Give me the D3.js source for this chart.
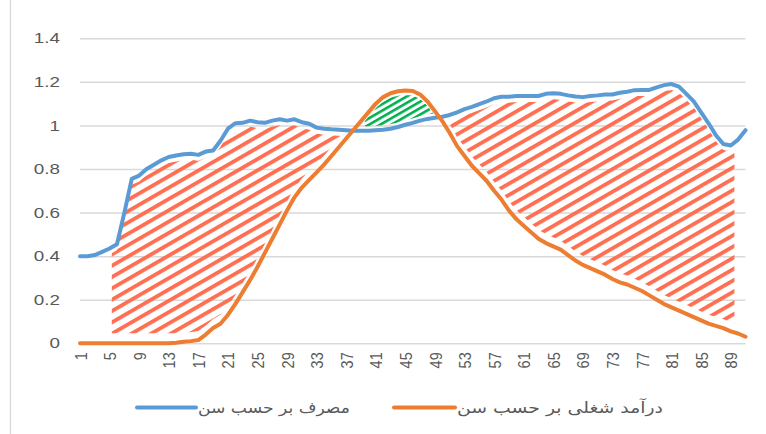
<!DOCTYPE html>
<html><head><meta charset="utf-8">
<script src="https://cdn.jsdelivr.net/npm/d3@7"></script>
<style>body{margin:0;background:#fff}svg{display:block}</style>
</head><body>
<svg id="c" width="766" height="434"></svg>
<script>
const ages = [1,2,3,4,5,6,7,8,9,10,11,12,13,14,15,16,17,18,19,20,21,22,23,24,25,26,27,28,29,30,
  31,32,33,34,35,36,37,38,39,40,41,42,43,44,45,46,47,48,49,50,51,52,53,54,55,56,57,58,59,60,
  61,62,63,64,65,66,67,68,69,70,71,72,73,74,75,76,77,78,79,80,81,82,83,84,85,86,87,88,89,90,91];
const xTickLabels = [1,5,9,13,17,21,25,29,33,37,41,45,49,53,57,61,65,69,73,77,81,85,89];
const yTicks = [0,0.2,0.4,0.6,0.8,1,1.2,1.4];
const consumption = [0.40,0.40,0.405,0.42,0.435,0.455,0.60,0.755,0.77,0.80,
  0.82,0.84,0.855,0.862,0.868,0.87,0.865,0.88,0.885,0.93,
  0.985,1.01,1.012,1.022,1.015,1.012,1.022,1.028,1.022,1.028,
  1.015,1.008,0.99,0.985,0.982,0.98,0.978,0.976,0.976,0.976,
  0.978,0.98,0.985,0.993,1.003,1.012,1.022,1.03,1.035,1.04,
  1.048,1.06,1.075,1.085,1.098,1.11,1.125,1.132,1.132,1.135,
  1.135,1.135,1.135,1.145,1.148,1.145,1.138,1.133,1.13,1.135,
  1.138,1.142,1.142,1.15,1.155,1.162,1.163,1.163,1.175,1.185,
  1.19,1.178,1.145,1.11,1.06,1.01,0.955,0.915,0.908,0.935,0.978];
const income = [0,0,0,0,0,0,0,0,0,0,
  0,0,0,0.003,0.007,0.01,0.015,0.04,0.07,0.09,
  0.13,0.18,0.235,0.29,0.35,0.415,0.48,0.545,0.61,0.67,
  0.715,0.75,0.785,0.82,0.86,0.90,0.94,0.98,1.02,1.06,
  1.10,1.13,1.148,1.157,1.16,1.158,1.142,1.11,1.065,1.02,
  0.965,0.905,0.86,0.815,0.78,0.745,0.70,0.66,0.61,0.57,
  0.54,0.51,0.48,0.46,0.445,0.43,0.405,0.38,0.36,0.345,
  0.33,0.315,0.295,0.28,0.27,0.255,0.24,0.22,0.20,0.18,
  0.165,0.15,0.135,0.12,0.105,0.09,0.08,0.07,0.055,0.045,0.03];
const seriesNames = ["مصرف بر حسب سن","درآمد شغلی بر حسب سن"];
// hatched gap regions (age ranges)
const redRanges = [[5.3,37],[51,89.5]];
const greenRange = [39.5,49];

const svg = d3.select("#c");
const L = 80, R = 745.5, T = 38.3, B = 343.3;
const x = d3.scalePoint().domain(ages).range([L,R]);
const y = d3.scaleLinear().domain([0,1.4]).range([B,T]);
const xf = a => x(1) + (a-1)*x.step();
function valAt(arr,a){
  const i = Math.floor(a)-1, t = a-Math.floor(a);
  if (i >= arr.length-1) return arr[arr.length-1];
  return arr[i]*(1-t) + arr[i+1]*t;
}

// chart border (left)
svg.append("line").attr("x1",10.5).attr("x2",10.5).attr("y1",0).attr("y2",434)
  .attr("stroke","#d9d9d9").attr("stroke-width",1.3);

// patterns
const defs = svg.append("defs");
const pr = defs.append("pattern").attr("id","redH").attr("patternUnits","userSpaceOnUse")
  .attr("width",20).attr("height",9.8).attr("patternTransform","rotate(-30)");
pr.append("rect").attr("x",0).attr("y",0).attr("width",20).attr("height",3.8).attr("fill","#FF6E50");
const pg = defs.append("pattern").attr("id","greenH").attr("patternUnits","userSpaceOnUse")
  .attr("width",20).attr("height",5.6).attr("patternTransform","rotate(-30)");
pg.append("rect").attr("x",0).attr("y",0).attr("width",20).attr("height",2.6).attr("fill","#00B050");

// grid + y axis
const yAxis = d3.axisLeft(y).tickValues(yTicks).tickSize(-(R-L)).tickPadding(20).tickFormat(d=>String(d));
const gy = svg.append("g").attr("transform",`translate(${L},0)`).call(yAxis);
gy.select(".domain").remove();
gy.selectAll(".tick line").attr("stroke","#d9d9d9").attr("stroke-width",1.5);
gy.selectAll(".tick text").attr("fill","#595959").attr("font-family","Liberation Sans, Arial, sans-serif")
  .attr("font-size",14.5).attr("x",0).attr("text-anchor","end")
  .attr("transform","translate(-20,0) scale(1.3,1)");

// x axis labels
const xAxis = d3.axisBottom(x).tickValues(xTickLabels).tickSize(0);
const gx = svg.append("g").attr("transform",`translate(0,${B})`).call(xAxis);
gx.select(".domain").remove();
gx.selectAll(".tick text").attr("fill","#595959").attr("font-family","Liberation Sans, Arial, sans-serif")
  .attr("font-size",14.5).attr("transform","rotate(-90) scale(1,1.2)").attr("text-anchor","end")
  .attr("x",-9).attr("y",0).attr("dy","0.35em");

// hatched regions
const floorY = y(0.046);
function region(r, upper, lower, fill, useFloor, inTop, inBot){
  const pts = d3.range(r[0], r[1]+1e-9, 0.05);
  if (pts[pts.length-1] < r[1]) pts.push(r[1]);
  const area = d3.area().x(a=>xf(a))
    .y0(a=>{
      const t = y(valAt(upper,a)) + inTop;
      let b = y(valAt(lower,a)) - inBot;
      if (useFloor) b = Math.min(b, floorY);
      return Math.max(b, t);
    })
    .y1(a=>y(valAt(upper,a)) + inTop);
  svg.append("path").attr("d",area(pts)).attr("fill",fill);
}
redRanges.forEach(r=>region(r, consumption, income, "url(#redH)", true, 6, 9));
region(greenRange, income, consumption, "url(#greenH)", false, 4.5, 4.5);

// lines
const line = d3.line().x((d,i)=>x(ages[i])).y(d=>y(d));
svg.append("path").attr("d",line(consumption)).attr("fill","none").attr("stroke","#5B9BD5")
  .attr("stroke-width",4).attr("stroke-linejoin","round").attr("stroke-linecap","round");
svg.append("path").attr("d",line(income)).attr("fill","none").attr("stroke","#ED7D31")
  .attr("stroke-width",4).attr("stroke-linejoin","round").attr("stroke-linecap","round");

// legend
const legend = [
  {name:seriesNames[0], color:"#5B9BD5", x1:137, x2:196, tx:198, tw:152},
  {name:seriesNames[1], color:"#ED7D31", x1:394, x2:455, tx:457, tw:206}
];
legend.forEach(d=>{
  svg.append("line").attr("x1",d.x1).attr("x2",d.x2).attr("y1",407.5).attr("y2",407.5)
    .attr("stroke",d.color).attr("stroke-width",4).attr("stroke-linecap","round");
  const t = svg.append("text").attr("x",0).attr("y",0).attr("fill","#595959")
    .attr("font-family","DejaVu Sans, sans-serif").attr("font-size",15.5)
    .attr("dominant-baseline","middle").attr("text-anchor","start").text(d.name);
  const w = t.node().getComputedTextLength();
  const s = d.tw / w;
  t.attr("transform",`translate(${d.tx},${409}) scale(${s},1)`);
});
</script>
</body></html>
